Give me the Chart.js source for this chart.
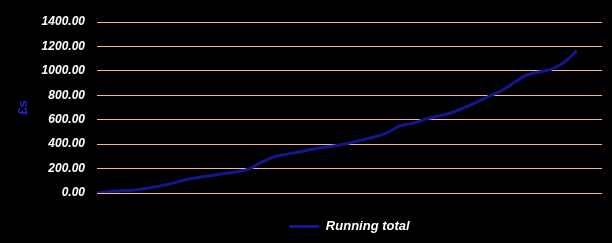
<!DOCTYPE html>
<html>
<head>
<meta charset="utf-8">
<script src="https://cdn.jsdelivr.net/npm/chart.js@4"></script>
<style>
	body { margin: 0; background: #000; }
	#wrap { width: 612px; height: 243px; position: relative; }
</style>
</head>
<body>
<div id="wrap"><canvas id="chart"></canvas></div>
<script>
// week numbers along the x axis (last two weeks not filled in yet)
var weeks = [];
for (var w = 1; w <= 41; w++) weeks.push(String(w));

// running total in pounds
var runningTotal = [0, 12, 18, 25, 40, 57, 80, 108, 127, 142,
	158, 172, 195, 250, 295, 318, 335, 358, 375, 390,
	410, 435, 460, 495, 550, 570, 605, 630, 655, 695,
	740, 790, 835, 900, 965, 990, 1015, 1070, 1165];

var yTicks = [0, 200, 400, 600, 800, 1000, 1200, 1400];

var tickFont = { family: 'Liberation Sans, Arial, sans-serif', size: 12, style: 'italic', weight: 'bold' };

var ctx = document.getElementById('chart').getContext('2d');
var chart = new Chart(ctx, {
	type: 'line',
	data: {
		labels: weeks,
		datasets: [{
			label: 'Running total',
			data: runningTotal,
			borderColor: '#15158f',
			backgroundColor: '#15158f',
			borderWidth: 3,
			pointRadius: 0,
			tension: 0.3,
			pointStyle: 'line'
		}]
	},
	options: {
		responsive: true,
		maintainAspectRatio: false,
		animation: false,
		layout: { padding: { left: 10, right: 10, top: 22, bottom: 0 } },
		plugins: {
			tooltip: { enabled: false },
			legend: {
				position: 'bottom',
				fullSize: false,
				labels: {
					usePointStyle: true,
					pointStyleWidth: 30,
					padding: 10,
					color: '#ffffff',
					font: { family: 'Liberation Sans, Arial, sans-serif', size: 13, style: 'italic', weight: 'bold' }
				}
			}
		},
		scales: {
			x: {
				grid: { display: false },
				border: { display: false },
				ticks: { display: false },
				afterFit: function(s) { s.height = 17; }
			},
			y: {
				min: yTicks[0],
				max: yTicks[yTicks.length - 1],
				afterBuildTicks: function(s) {
					s.ticks = yTicks.map(function(v) { return { value: v }; });
				},
				afterFit: function(s) { s.width = 87; },
				grid: { color: '#f0b898', lineWidth: 1, drawTicks: false },
				border: { display: false },
				ticks: {
					color: '#ffffff',
					padding: 12,
					font: tickFont,
					callback: function(v) { return Number(v).toFixed(2); }
				},
				title: {
					display: true,
					text: '£s',
					color: '#2222cc',
					padding: { top: 6, bottom: 0 },
					font: { family: 'Liberation Sans, Arial, sans-serif', size: 13, weight: 'bold' }
				}
			}
		}
	}
});
</script>
</body>
</html>
